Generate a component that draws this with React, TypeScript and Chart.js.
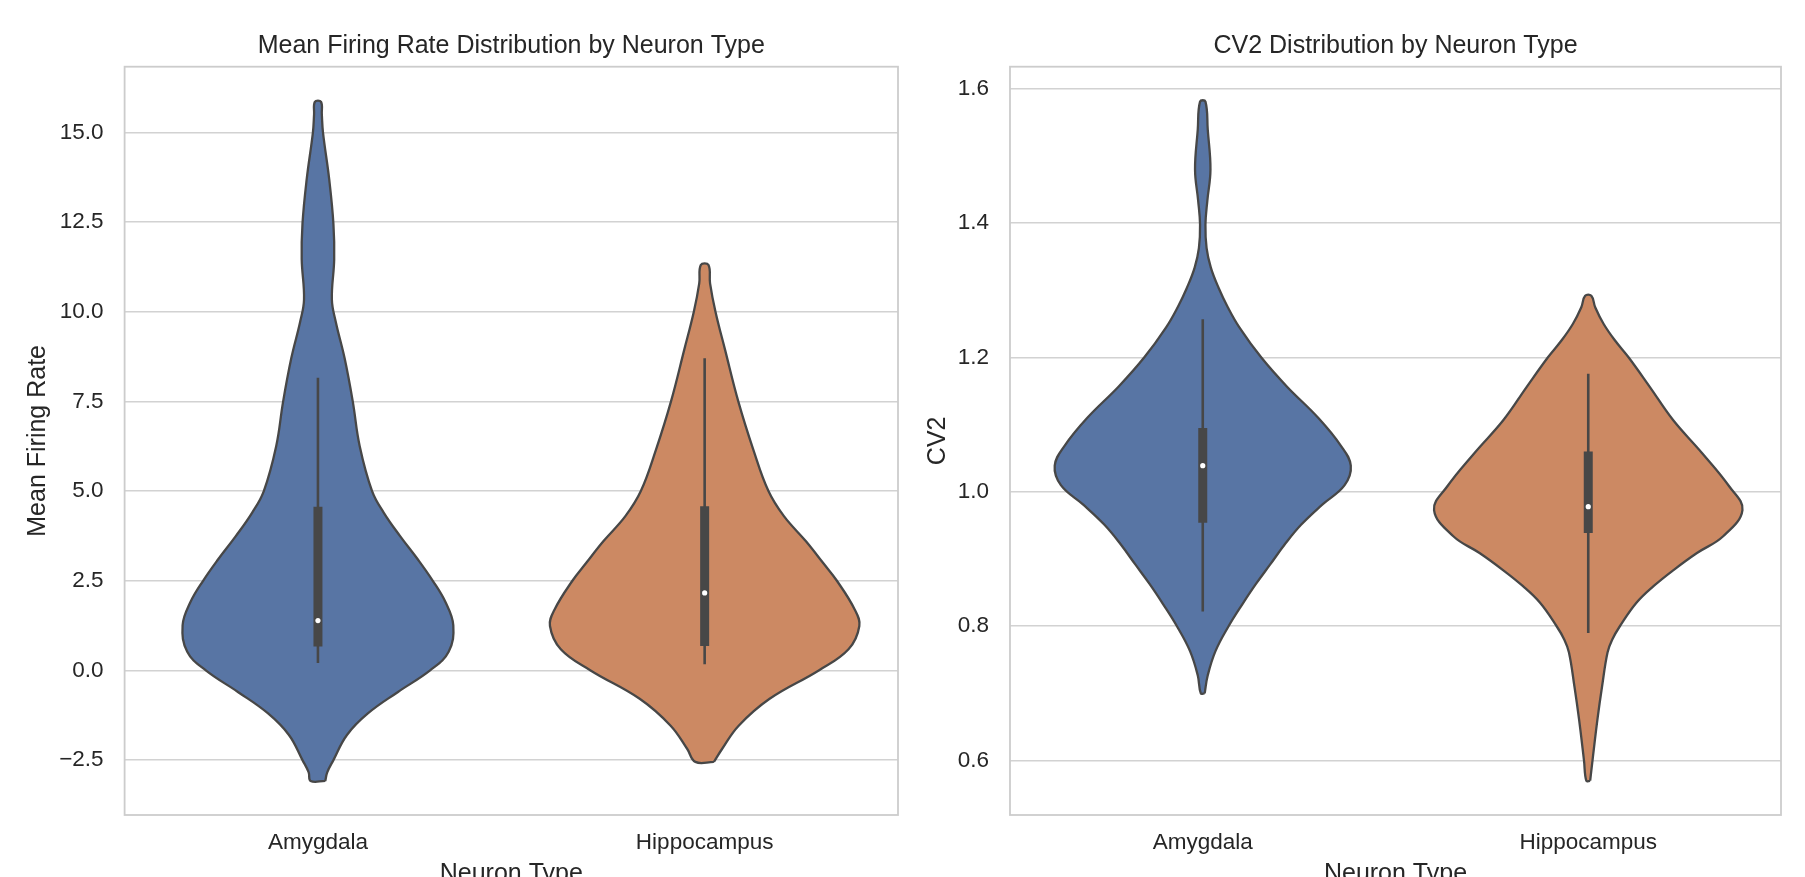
import React, { useEffect, useRef } from "react";
import { Chart, registerables } from "chart.js";

Chart.register(...registerables);

const FONT = "'Liberation Sans', Arial, Helvetica, sans-serif";
const TEXT = "#262626";

// ---------- data ----------
const categories = ["Amygdala", "Hippocampus"];
const xAxisTitle = "Neuron Type";

const rateTitle = "Mean Firing Rate Distribution by Neuron Type";
const rateAxisTitle = "Mean Firing Rate";
const rateTicks = [-2.5, 0, 2.5, 5, 7.5, 10, 12.5, 15];
const rateRange = [-4.03, 16.83];

const cv2Title = "CV2 Distribution by Neuron Type";
const cv2AxisTitle = "CV2";
const cv2Ticks = [0.6, 0.8, 1.0, 1.2, 1.4, 1.6];
const cv2Range = [0.519, 1.633];

// violin outlines: value (bottom -> top) and half width in category units
const rateAmygValues = [-3.08, -2.84, -2.5, -1.8, -1.2, -0.6, 0.0, 0.52, 1.26, 1.9, 2.5, 3.1, 3.75, 4.4, 5.0, 6.25, 7.5, 8.7, 9.72, 10.34, 11.46, 12.45, 13.7, 15.0, 15.5, 15.85];
const rateAmygHalf = [0.019, 0.024, 0.04, 0.075, 0.129, 0.207, 0.29, 0.338, 0.35, 0.33, 0.297, 0.258, 0.212, 0.17, 0.14, 0.108, 0.09, 0.069, 0.046, 0.036, 0.042, 0.04, 0.029, 0.013, 0.01, 0.008];

const rateHippoValues = [-2.55, -2.19, -1.54, -0.79, 0.0, 0.59, 1.24, 1.7, 2.5, 3.0, 3.6, 4.3, 5.0, 6.15, 7.5, 8.93, 10.0, 10.79, 11.3];
const rateHippoHalf = [0.024, 0.045, 0.088, 0.168, 0.295, 0.372, 0.4, 0.388, 0.342, 0.306, 0.262, 0.205, 0.165, 0.126, 0.087, 0.053, 0.028, 0.014, 0.01];

const cv2AmygValues = [0.7, 0.727, 0.763, 0.8, 0.833, 0.863, 0.892, 0.922, 0.951, 0.981, 1.01, 1.039, 1.069, 1.11, 1.157, 1.2, 1.245, 1.275, 1.304, 1.334, 1.363, 1.398, 1.434, 1.48, 1.539, 1.581];
const cv2AmygHalf = [0.005, 0.013, 0.033, 0.067, 0.103, 0.138, 0.175, 0.213, 0.255, 0.31, 0.368, 0.384, 0.358, 0.3, 0.218, 0.152, 0.095, 0.065, 0.041, 0.021, 0.01, 0.007, 0.012, 0.02, 0.013, 0.007];

const cv2HippoValues = [0.57, 0.6, 0.662, 0.711, 0.761, 0.78, 0.8, 0.835, 0.86, 0.884, 0.909, 0.934, 0.973, 1.008, 1.058, 1.107, 1.156, 1.2, 1.225, 1.25, 1.275, 1.292];
const cv2HippoHalf = [0.005, 0.011, 0.024, 0.036, 0.05, 0.062, 0.082, 0.125, 0.17, 0.222, 0.282, 0.35, 0.4, 0.366, 0.295, 0.22, 0.16, 0.105, 0.07, 0.04, 0.018, 0.008];

// inner box: [whiskerLow, q1, median, q3, whiskerHigh]
const rateAmygBox = [0.21, 0.67, 1.39, 4.56, 8.16];
const rateHippoBox = [0.17, 0.68, 2.16, 4.58, 8.7];
const cv2AmygBox = [0.822, 0.954, 1.039, 1.095, 1.257];
const cv2HippoBox = [0.79, 0.939, 0.978, 1.06, 1.176];

const violinColors = ["#5875a4", "#cc8963"];
const edgeColor = "#474747";

// ---------- helpers ----------
function outline(center: number, values: number[], half: number[]) {
  const right = values.map((v, i) => ({ x: center + half[i], y: v }));
  const left = values.map((v, i) => ({ x: center - half[i], y: v })).reverse();
  return [...right, ...left, right[0]];
}

const framePlugin = {
  id: "frame",
  beforeDatasetsDraw(chart: any) {
    const { ctx, chartArea: a } = chart;
    ctx.save();
    ctx.strokeStyle = "#cccccc";
    ctx.lineWidth = 1.8;
    ctx.strokeRect(a.left, a.top, a.right - a.left, a.bottom - a.top);
    ctx.restore();
  },
};

type PanelProps = {
  title: string;
  yTitle: string;
  yTicks: number[];
  yRange: number[];
  decimals: number;
  profiles: number[][][];
  boxes: number[][];
  left: number;
  width: number;
  yAxisWidth: number;
  padRight: number;
  yTitlePad: number;
};

function ViolinPanel(p: PanelProps) {
  const ref = useRef<HTMLCanvasElement>(null);
  useEffect(() => {
    if (!ref.current) return;
    const datasets: any[] = [];
    p.profiles.forEach(([values, half], i) => {
      datasets.push({
        type: "line",
        data: outline(i, values, half),
        borderColor: edgeColor,
        borderWidth: 2.3,
        backgroundColor: violinColors[i],
        fill: "shape",
        tension: 0.4,
        pointRadius: 0,
        order: 10,
      });
    });
    p.boxes.forEach((b, i) => {
      datasets.push({
        type: "line",
        data: [{ x: i, y: b[0] }, { x: i, y: b[4] }],
        borderColor: edgeColor,
        borderWidth: 2.6,
        pointRadius: 0,
        fill: false,
        order: 5,
      });
      datasets.push({
        type: "line",
        data: [{ x: i, y: b[1] }, { x: i, y: b[3] }],
        borderColor: edgeColor,
        borderWidth: 9,
        borderCapStyle: "butt",
        pointRadius: 0,
        fill: false,
        order: 4,
      });
      datasets.push({
        type: "line",
        data: [{ x: i, y: b[2] }],
        showLine: false,
        pointRadius: 2.6,
        pointBackgroundColor: "#ffffff",
        pointBorderWidth: 0,
        order: 1,
      });
    });

    const chart = new Chart(ref.current, {
      type: "line",
      data: { datasets },
      plugins: [framePlugin],
      options: {
        responsive: false,
        animation: false,
        events: [],
        devicePixelRatio: 1,
        layout: { padding: { left: 0, right: p.padRight, top: 0, bottom: 0 } },
        plugins: {
          legend: { display: false },
          tooltip: { enabled: false },
          title: {
            display: true,
            text: p.title,
            fullSize: false,
            color: TEXT,
            font: { family: FONT, size: 25, weight: "normal" },
            padding: { top: 31.3, bottom: 5.4 },
          },
        },
        scales: {
          x: {
            type: "linear",
            min: -0.5,
            max: 1.5,
            afterBuildTicks: (s: any) => {
              s.ticks = categories.map((_, i) => ({ value: i }));
            },
            afterFit: (s: any) => {
              s.height = 85;
            },
            ticks: {
              callback: (v: any) => categories[v] ?? "",
              color: TEXT,
              font: { family: FONT, size: 22.5 },
              padding: 14.4,
              autoSkip: false,
              maxRotation: 0,
            },
            grid: { display: false, drawTicks: false },
            border: { display: false },
            title: {
              display: true,
              text: xAxisTitle,
              color: TEXT,
              font: { family: FONT, size: 25 },
              padding: { top: 0, bottom: 10.8 },
            },
          },
          y: {
            type: "linear",
            min: p.yRange[0],
            max: p.yRange[1],
            afterBuildTicks: (s: any) => {
              s.ticks = p.yTicks.map((v) => ({ value: v }));
            },
            afterFit: (s: any) => {
              s.width = p.yAxisWidth;
            },
            ticks: {
              callback: (v: any) => Number(v).toFixed(p.decimals).replace("-", "\u2212"),
              color: TEXT,
              font: { family: FONT, size: 22.5 },
              padding: 21,
            },
            grid: { color: "#d2d2d2", lineWidth: 1.5, drawTicks: false },
            border: { display: false },
            title: {
              display: true,
              text: p.yTitle,
              color: TEXT,
              font: { family: FONT, size: 25 },
              padding: { top: p.yTitlePad, bottom: 0 },
            },
          },
        },
      } as any,
    });
    return () => chart.destroy();
  }, []);
  return (
    <canvas
      ref={ref}
      width={p.width}
      height={900}
      style={{ position: "absolute", left: p.left, top: 0, width: p.width, height: 900 }}
    />
  );
}

export default function App() {
  return (
    <div
      style={{
        position: "fixed",
        left: 0,
        top: 0,
        width: 1805,
        height: 877,
        overflow: "hidden",
        background: "#ffffff",
      }}
    >
      <ViolinPanel
        title={rateTitle}
        yTitle={rateAxisTitle}
        yTicks={rateTicks}
        yRange={rateRange}
        decimals={1}
        profiles={[
          [rateAmygValues, rateAmygHalf],
          [rateHippoValues, rateHippoHalf],
        ]}
        boxes={[rateAmygBox, rateHippoBox]}
        left={0}
        width={902}
        yAxisWidth={124.6}
        padRight={4}
        yTitlePad={23}
      />
      <ViolinPanel
        title={cv2Title}
        yTitle={cv2AxisTitle}
        yTicks={cv2Ticks}
        yRange={cv2Range}
        decimals={1}
        profiles={[
          [cv2AmygValues, cv2AmygHalf],
          [cv2HippoValues, cv2HippoHalf],
        ]}
        boxes={[cv2AmygBox, cv2HippoBox]}
        left={902}
        width={903}
        yAxisWidth={108}
        padRight={24}
        yTitlePad={21}
      />
    </div>
  );
}
